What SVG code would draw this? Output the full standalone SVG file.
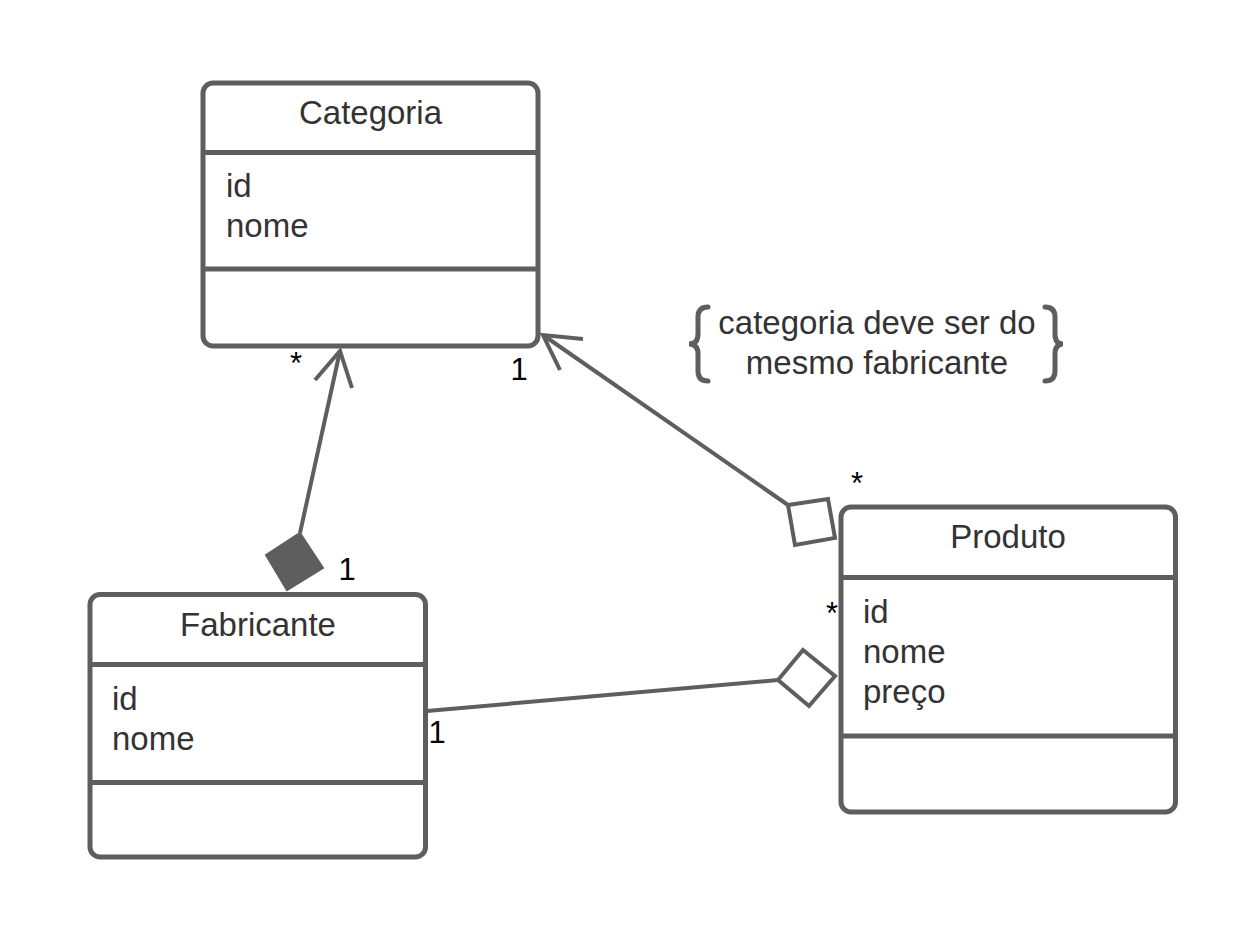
<svg xmlns="http://www.w3.org/2000/svg" width="1236" height="947" viewBox="0 0 1236 947">
<style>
.box{fill:#ffffff;stroke:#5e5e5e;stroke-width:5}
.div{stroke:#5e5e5e;stroke-width:5}
.t{font-family:"Liberation Sans",Arial,sans-serif;font-size:33px;fill:#333333}
.m{font-family:"Liberation Sans",Arial,sans-serif;font-size:31px;fill:#000000;text-anchor:middle}
.c{stroke:#5e5e5e;stroke-width:4;fill:none}
.od{fill:#ffffff;stroke:#5e5e5e;stroke-width:4}
.fd{fill:#5e5e5e;stroke:#5e5e5e;stroke-width:2}
.br{fill:none;stroke:#5e5e5e;stroke-width:5;stroke-linecap:round}
</style>
<rect width="1236" height="947" fill="#ffffff"/>
<g id="connectors">
<line class="c" x1="300" y1="533" x2="340" y2="351"/>
<polyline class="c" points="315,380 340,351 352,388"/>
<polygon class="fd" points="300,533 323,568 287,590 266,555"/>
<line class="c" x1="788" y1="505" x2="543" y2="335"/>
<polyline class="c" points="583,339 543,335 560,370"/>
<polygon class="od" points="788,505 828,499 835,538 795,545"/>
<line class="c" x1="778" y1="680" x2="427" y2="711"/>
<polygon class="od" points="803,650 835,676 809,706 778,680"/>
<text class="m" x="296" y="374">*</text>
<text class="m" x="519" y="380">1</text>
<text class="m" x="347" y="580">1</text>
<text class="m" x="857" y="494">*</text>
<text class="m" x="832" y="624">*</text>
<text class="m" x="437" y="743">1</text>
</g>
<g id="categoria">
<rect class="box" x="203" y="83" width="335" height="263" rx="10"/>
<line class="div" x1="203" y1="152.5" x2="538" y2="152.5"/>
<line class="div" x1="203" y1="269" x2="538" y2="269"/>
<text class="t" x="370.5" y="124" text-anchor="middle">Categoria</text>
<text class="t" x="226" y="197">id</text>
<text class="t" x="226" y="237">nome</text>
</g>
<g id="produto">
<rect class="box" x="841" y="507" width="334.5" height="305" rx="10"/>
<line class="div" x1="841" y1="577.5" x2="1175.5" y2="577.5"/>
<line class="div" x1="841" y1="736" x2="1175.5" y2="736"/>
<text class="t" x="1008" y="548" text-anchor="middle">Produto</text>
<text class="t" x="863" y="623">id</text>
<text class="t" x="863" y="663">nome</text>
<text class="t" x="863" y="703">preço</text>
</g>
<g id="fabricante">
<rect class="box" x="90" y="594.5" width="335.5" height="262.5" rx="10"/>
<line class="div" x1="90" y1="664.5" x2="425.5" y2="664.5"/>
<line class="div" x1="90" y1="782.5" x2="425.5" y2="782.5"/>
<text class="t" x="258" y="636" text-anchor="middle">Fabricante</text>
<text class="t" x="112" y="710">id</text>
<text class="t" x="112" y="750">nome</text>
</g>
<g id="constraint">
<path class="br" d="M708,307 Q698,307 698,317 L698,334 Q698,344 689,344 Q698,344 698,354 L698,371 Q698,381 708,381"/>
<path class="br" d="M1045,307 Q1055,307 1055,317 L1055,334 Q1055,344 1063,344 Q1055,344 1055,354 L1055,371 Q1055,381 1045,381"/>
<text class="t" x="877" y="334" text-anchor="middle">categoria deve ser do</text>
<text class="t" x="877" y="374" text-anchor="middle">mesmo fabricante</text>
</g>
</svg>
